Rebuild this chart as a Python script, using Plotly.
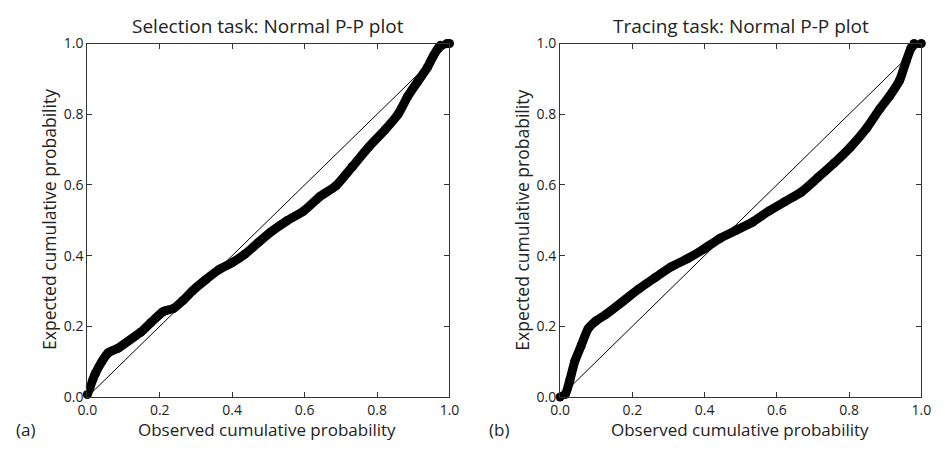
import plotly.graph_objects as go

# Selection task P-P curve (observed, expected)
sel_obs = [0.0, 0.008, 0.022, 0.04, 0.058, 0.085, 0.11, 0.147, 0.175, 0.21, 0.237, 0.264,
           0.29, 0.327, 0.363, 0.40, 0.435, 0.471, 0.507, 0.552, 0.597, 0.642, 0.687,
           0.732, 0.777, 0.822, 0.858, 0.885, 0.912, 0.939, 0.957, 0.975, 0.993, 1.0]
sel_exp = [0.007, 0.03, 0.066, 0.10, 0.125, 0.138, 0.156, 0.183, 0.21, 0.242, 0.25, 0.273,
           0.30, 0.332, 0.36, 0.38, 0.404, 0.436, 0.467, 0.499, 0.526, 0.567, 0.598,
           0.652, 0.707, 0.756, 0.80, 0.851, 0.892, 0.932, 0.968, 0.995, 1.0, 1.0]

# Tracing task P-P curve
tra_obs = [0.0, 0.014, 0.027, 0.041, 0.059, 0.077, 0.099, 0.126, 0.172, 0.217, 0.262, 0.307,
           0.352, 0.397, 0.443, 0.488, 0.533, 0.578, 0.623, 0.668, 0.714, 0.759, 0.804,
           0.849, 0.885, 0.912, 0.94, 0.958, 0.971, 0.98, 1.0]
tra_exp = [0.0, 0.007, 0.048, 0.102, 0.147, 0.192, 0.215, 0.233, 0.269, 0.305, 0.337, 0.368,
           0.391, 0.418, 0.449, 0.472, 0.495, 0.526, 0.553, 0.58, 0.621, 0.662, 0.707,
           0.761, 0.815, 0.851, 0.896, 0.95, 0.986, 1.0, 1.0]

ref_line = [0.0, 1.0]
tick_vals = [0.0, 0.2, 0.4, 0.6, 0.8, 1.0]
tick_text = ["0.0", "0.2", "0.4", "0.6", "0.8", "1.0"]
titles = ["Selection task: Normal P-P plot", "Tracing task: Normal P-P plot"]
x_title = "Observed cumulative probability"
y_title = "Expected cumulative probability"
panel_labels = ["(a)", "(b)"]

W, H = 945, 451
FONT = "Open Sans"

fig = go.Figure()

panels = [
    (sel_obs, sel_exp, "x", "y"),
    (tra_obs, tra_exp, "x2", "y2"),
]
top_px, bot_px = 35, 404

for ox, ey, xa, ya in panels:
    fig.add_trace(go.Scatter(x=ref_line, y=ref_line, mode="lines",
                             line=dict(color="black", width=1), xaxis=xa, yaxis=ya,
                             showlegend=False, hoverinfo="skip"))
    fig.add_trace(go.Scatter(x=ox, y=ey, mode="lines+markers",
                             line=dict(color="black", width=9, shape="spline", smoothing=0.6),
                             marker=dict(symbol="circle", size=9, color="black"),
                             xaxis=xa, yaxis=ya, showlegend=False, cliponaxis=False))

axis_common = dict(range=[0, 1], tickvals=tick_vals, ticktext=tick_text,
                   ticks="inside", ticklen=5, tickwidth=1, tickcolor="#333",
                   showline=True, linecolor="#333", linewidth=1.2, mirror="ticks",
                   showgrid=False, zeroline=False,
                   tickfont=dict(family=FONT, size=14, color="#222"))

ydom = [1 - bot_px / H, 1 - top_px / H]
fig.update_layout(
    width=W, height=H, margin=dict(l=0, r=0, t=0, b=0),
    paper_bgcolor="white", plot_bgcolor="white",
    xaxis=dict(domain=[79 / W, 449 / W], anchor="y", **axis_common),
    yaxis=dict(domain=ydom, anchor="x", **axis_common),
    xaxis2=dict(domain=[562 / W, 931 / W], anchor="y2", **axis_common),
    yaxis2=dict(domain=ydom, anchor="x2", **axis_common),
)

label_px = [4, 487]
for i, (lpx, rpx) in enumerate([(79, 449), (562, 931)]):
    cx = (lpx + rpx) / 2
    fig.add_annotation(text=titles[i], x=cx / W, y=1 - 17 / H, xref="paper", yref="paper",
                       showarrow=False, xanchor="center", yanchor="middle",
                       font=dict(family=FONT, size=19, color="#222"))
    fig.add_annotation(text=x_title, x=(cx - 1) / W, y=1 - 438 / H, xref="paper", yref="paper",
                       showarrow=False, xanchor="center", yanchor="middle",
                       font=dict(family=FONT, size=17, color="#222"))
    fig.add_annotation(text=y_title, x=(lpx - 39) / W, y=1 - 219 / H, xref="paper",
                       yref="paper", showarrow=False, textangle=-90,
                       xanchor="center", yanchor="middle",
                       font=dict(family=FONT, size=17.5, color="#222"))
    fig.add_annotation(text=panel_labels[i], x=label_px[i] / W, y=1 - 438 / H,
                       xref="paper", yref="paper", showarrow=False,
                       xanchor="left", yanchor="middle",
                       font=dict(family=FONT, size=17, color="#222"))

fig.write_html("out.html",
               post_script="document.body.style.margin='0';document.body.style.padding='0';"
                           "document.documentElement.style.overflow='hidden';")
